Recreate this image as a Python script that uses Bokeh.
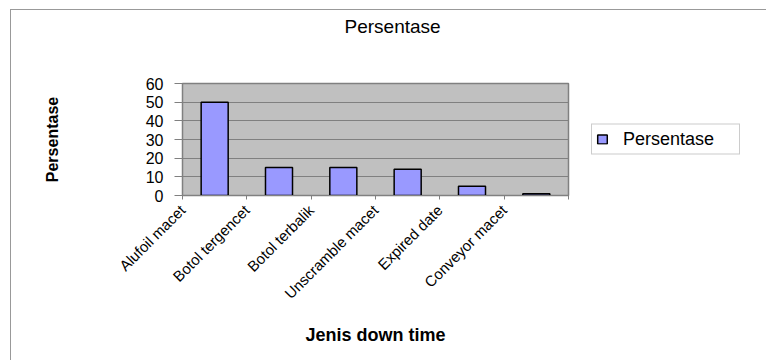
from math import pi
from bokeh.plotting import figure
from bokeh.models import Range1d, FixedTicker, Legend, LegendItem, ColumnDataSource
from bokeh.embed import file_html
from bokeh.resources import INLINE

# ---- data ----
categories = ["Alufoil macet", "Botol tergencet", "Botol terbalik",
              "Unscramble macet", "Expired date", "Conveyor macet"]
values = [50, 15, 15, 14, 5, 1]
y_ticks = [0, 10, 20, 30, 40, 50, 60]
series_name = "Persentase"
chart_title = "Persentase"
x_title = "Jenis down time"
y_title = "Persentase"

FONT = "Liberation Sans"
n = len(categories)
source = ColumnDataSource(dict(x=[i + 0.5 for i in range(n)], top=values, cat=categories))

p = figure(frame_width=386, frame_height=112, output_backend="svg", toolbar_location=None,
           x_range=Range1d(0, n), y_range=Range1d(y_ticks[0], y_ticks[-1]),
           min_border_left=171, min_border_right=198, min_border_top=73, min_border_bottom=165,
           background_fill_color="#C0C0C0", border_fill_color="white",
           outline_line_color="#808080", outline_line_width=1.5,
           styles={"border-left": "1px solid #999999", "border-top": "1px solid #999999"},
           margin=(9, 0, 0, 10))

r = p.vbar(x="x", top="top", width=0.42, source=source,
           fill_color="#9999FF", line_color="black", line_width=1.5)

# title: two trailing empty lines keep it high above the plot area
p.title.text = chart_title + "\n\n"
p.title.align = "left"
p.title.offset = 162
p.title.text_font = FONT
p.title.text_font_size = "19px"
p.title.text_line_height = 1.1
p.title.text_font_style = "normal"
p.title.text_color = "black"
p.title.standoff = 0

# grid
p.xgrid.visible = False
p.ygrid.ticker = FixedTicker(ticks=y_ticks)
p.ygrid.grid_line_color = "#808080"
p.ygrid.grid_line_width = 1

# y axis
ya = p.yaxis[0]
ya.ticker = FixedTicker(ticks=y_ticks)
ya.major_label_text_font = FONT
ya.major_label_text_font_size = "16px"
ya.major_label_text_color = "black"
ya.major_tick_out = 8
ya.major_tick_in = 0
ya.minor_tick_out = 0
ya.minor_tick_in = 0
ya.major_tick_line_color = "#808080"
ya.axis_line_color = "#808080"
ya.major_label_standoff = 11
ya.axis_label = y_title
ya.axis_label_text_font = FONT
ya.axis_label_text_font_size = "16px"
ya.axis_label_text_font_style = "bold"
ya.axis_label_text_color = "black"
ya.axis_label_standoff = 82

# x axis
xa = p.xaxis[0]
xa.ticker = FixedTicker(ticks=list(range(n + 1)))
overrides = {i: c for i, c in enumerate(categories)}
overrides[n] = ""
xa.major_label_overrides = overrides
xa.major_label_orientation = pi / 4
xa.major_label_text_font = FONT
xa.major_label_text_font_size = "15px"
xa.major_label_text_color = "black"
xa.major_label_standoff = 8
xa.major_tick_out = 4
xa.major_tick_in = 0
xa.minor_tick_out = 0
xa.minor_tick_in = 0
xa.major_tick_line_color = "#808080"
xa.axis_line_color = "#808080"
xa.axis_label = x_title
xa.axis_label_text_font = FONT
xa.axis_label_text_font_size = "18px"
xa.axis_label_text_font_style = "bold"
xa.axis_label_text_color = "black"
xa.axis_label_standoff = 14

# legend in the right panel
legend = Legend(items=[LegendItem(label=series_name, renderers=[r])],
                location="left", orientation="vertical",
                padding=4, spacing=0, margin=23,
                glyph_width=12, glyph_height=11, label_standoff=15,
                label_width=112,
                label_text_font=FONT, label_text_font_size="18px",
                label_text_color="black",
                border_line_color="#999999", border_line_width=1,
                background_fill_color="white", background_fill_alpha=1)
p.add_layout(legend, "right")

open("out.html", "w").write(file_html(p, INLINE))
